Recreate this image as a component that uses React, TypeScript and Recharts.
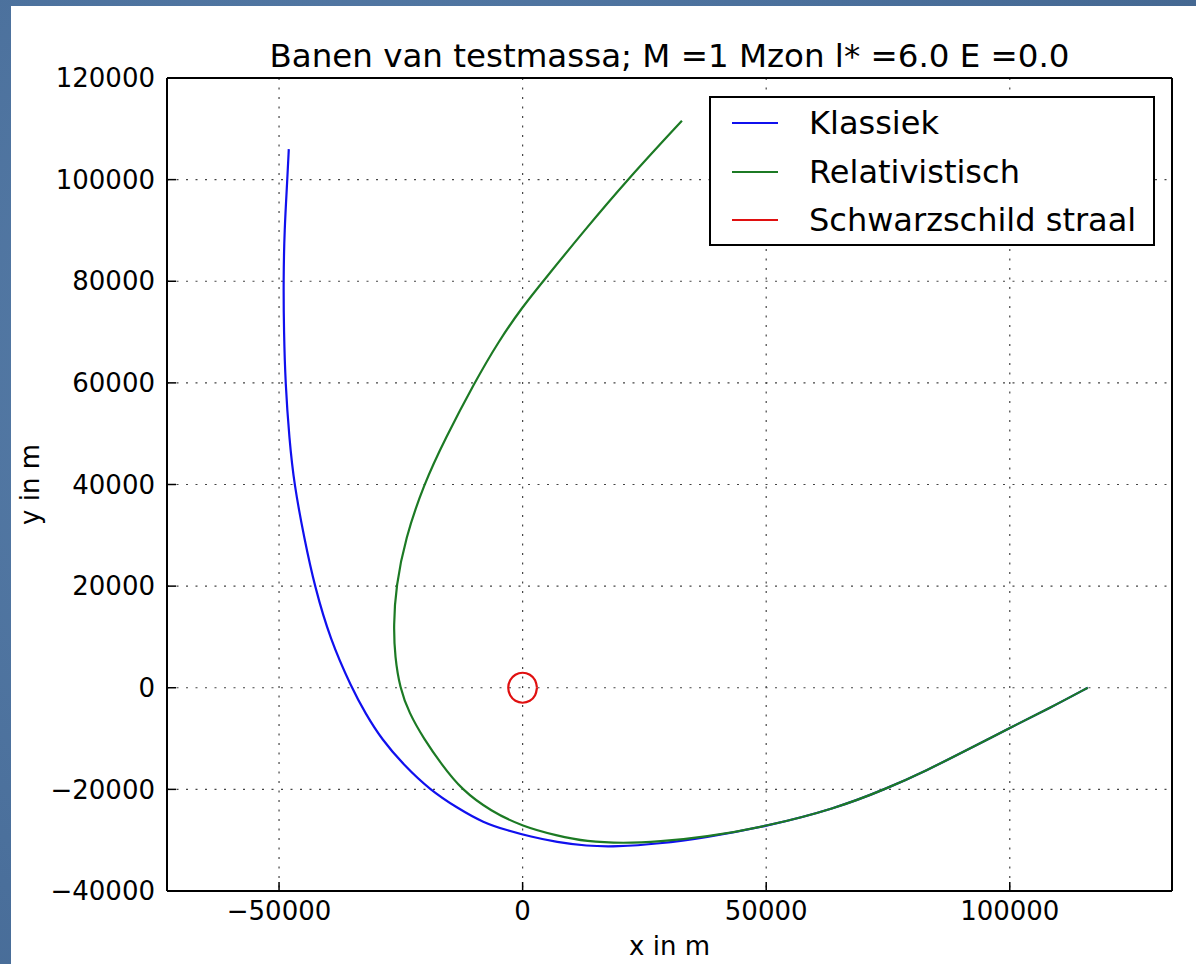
import { CartesianGrid, Legend, Line, LineChart, XAxis, YAxis } from "recharts";

// orbit samples in metres, ordered along the path (start at the right, swing round the mass)
const klassiek = [
  { x: 116000, y: 0 },
  { x: 108200, y: -4000 },
  { x: 100000, y: -7900 },
  { x: 90700, y: -12500 },
  { x: 83100, y: -16200 },
  { x: 74400, y: -20000 },
  { x: 64100, y: -23800 },
  { x: 50000, y: -27300 },
  { x: 37400, y: -29500 },
  { x: 28000, y: -30700 },
  { x: 19200, y: -31300 },
  { x: 13100, y: -31150 },
  { x: 7000, y: -30400 },
  { x: 1600, y: -29300 },
  { x: -3000, y: -28100 },
  { x: -8000, y: -26600 },
  { x: -13500, y: -23600 },
  { x: -19000, y: -20100 },
  { x: -24300, y: -15300 },
  { x: -28900, y: -10200 },
  { x: -32300, y: -5000 },
  { x: -35100, y: 0 },
  { x: -39500, y: 9500 },
  { x: -42700, y: 20000 },
  { x: -44800, y: 29300 },
  { x: -46900, y: 40000 },
  { x: -47900, y: 49000 },
  { x: -48700, y: 60000 },
  { x: -49000, y: 70000 },
  { x: -49100, y: 80000 },
  { x: -48900, y: 90000 },
  { x: -48300, y: 100000 },
  { x: -48000, y: 106000 },
];

const relativistisch = [
  { x: 116000, y: 0 },
  { x: 108200, y: -4000 },
  { x: 100000, y: -7900 },
  { x: 90700, y: -12500 },
  { x: 83100, y: -16200 },
  { x: 74400, y: -20000 },
  { x: 64100, y: -23800 },
  { x: 50000, y: -27300 },
  { x: 37400, y: -29400 },
  { x: 28000, y: -30300 },
  { x: 20700, y: -30600 },
  { x: 13100, y: -30300 },
  { x: 7000, y: -29100 },
  { x: 0, y: -27300 },
  { x: -6500, y: -24300 },
  { x: -12500, y: -20100 },
  { x: -16700, y: -15000 },
  { x: -20300, y: -10000 },
  { x: -23300, y: -5000 },
  { x: -25200, y: 0 },
  { x: -26200, y: 6000 },
  { x: -26500, y: 12200 },
  { x: -26000, y: 20000 },
  { x: -24100, y: 29300 },
  { x: -20300, y: 40000 },
  { x: -15900, y: 49000 },
  { x: -9900, y: 60000 },
  { x: -5000, y: 68100 },
  { x: 0, y: 75000 },
  { x: 4200, y: 80000 },
  { x: 12500, y: 89800 },
  { x: 21500, y: 100000 },
  { x: 32700, y: 111600 },
];

// Schwarzschild radius of one solar mass (~2950 m), traced round the origin
const schwarzschild = [
  { x: 2950, y: 0 },
  { x: 2560, y: 1480 },
  { x: 1480, y: 2560 },
  { x: 0, y: 2950 },
  { x: -1480, y: 2560 },
  { x: -2560, y: 1480 },
  { x: -2950, y: 0 },
  { x: -2560, y: -1480 },
  { x: -1480, y: -2560 },
  { x: 0, y: -2950 },
  { x: 1480, y: -2560 },
  { x: 2560, y: -1480 },
  { x: 2950, y: 0 },
];

const xTicks = [-50000, 0, 50000, 100000];
const yTicks = [-40000, -20000, 0, 20000, 40000, 60000, 80000, 100000, 120000];

const FONT = "'DejaVu Sans', sans-serif";
const minus = (v: number) => String(v).replace("-", "\u2212");

function LegendBox({ payload }: any) {
  return (
    <div
      style={{
        border: "2px solid #000",
        background: "#fff",
        width: 446,
        height: 150,
        paddingTop: 1,
        boxSizing: "border-box",
        fontFamily: FONT,
        fontSize: 32,
        color: "#000",
      }}
    >
      {(payload || []).map((entry: any) => (
        <div key={entry.value} style={{ display: "flex", alignItems: "center", height: 48.5 }}>
          <span style={{ width: 46, borderTop: `2px solid ${entry.color}`, marginLeft: 21 }} />
          <span style={{ marginLeft: 31, whiteSpace: "nowrap" }}>{entry.value}</span>
        </div>
      ))}
    </div>
  );
}

export default function App() {
  return (
    <div
      style={{
        position: "absolute",
        left: 0,
        top: 0,
        width: 1196,
        height: 964,
        overflow: "hidden",
        background: "radial-gradient(circle at 30% 40%, #5a80ab 0%, #4a6f9b 60%, #43668f 100%)",
      }}
    >
      <div style={{ position: "absolute", left: 11, top: 6, right: 0, bottom: 0, background: "#fff" }} />
      <div style={{ position: "absolute", left: 0, top: 0 }}>
        <LineChart width={1196} height={964} margin={{ top: 77, right: 23, bottom: 0, left: 0 }}>
          <CartesianGrid stroke="#444" strokeDasharray="2 7.5" strokeWidth={1.2} />
          <XAxis
            type="number"
            dataKey="x"
            domain={[-73000, 133300]}
            ticks={xTicks}
            allowDataOverflow
            height={73}
            tickFormatter={minus}
            tickSize={-9}
            tickMargin={20}
            axisLine={{ stroke: "#000", strokeWidth: 2 }}
            tickLine={{ stroke: "#000", strokeWidth: 1.5 }}
            tick={{ fill: "#000", fontSize: 26, fontFamily: FONT }}
            label={{
              content: (p: any) => (
                <text
                  x={p.viewBox.x + p.viewBox.width / 2}
                  y={955}
                  textAnchor="middle"
                  fontSize={26}
                  fontFamily={FONT}
                  fill="#000"
                >
                  x in m
                </text>
              ),
            }}
          />
          <XAxis
            xAxisId="top"
            orientation="top"
            type="number"
            dataKey="x"
            domain={[-73000, 133300]}
            ticks={xTicks}
            allowDataOverflow
            height={1}
            tick={false}
            tickSize={-9}
            axisLine={{ stroke: "#000", strokeWidth: 2 }}
            tickLine={{ stroke: "#000", strokeWidth: 1.5 }}
            label={{
              content: (p: any) => (
                <text
                  x={p.viewBox.x + p.viewBox.width / 2}
                  y={67}
                  textAnchor="middle"
                  fontSize={32.5}
                  fontFamily={FONT}
                  fill="#000"
                >
                  Banen van testmassa; M =1 Mzon l* =6.0 E =0.0
                </text>
              ),
            }}
          />
          <YAxis
            type="number"
            domain={[-40000, 120000]}
            ticks={yTicks}
            allowDataOverflow
            width={167}
            tickFormatter={minus}
            tickSize={-9}
            tickMargin={21}
            axisLine={{ stroke: "#000", strokeWidth: 2 }}
            tickLine={{ stroke: "#000", strokeWidth: 1.5 }}
            tick={{ fill: "#000", fontSize: 26, fontFamily: FONT }}
            label={{
              content: (p: any) => (
                <text
                  x={30}
                  y={p.viewBox.y + p.viewBox.height / 2}
                  transform={`rotate(-90 30 ${p.viewBox.y + p.viewBox.height / 2})`}
                  textAnchor="middle"
                  dominantBaseline="central"
                  fontSize={26}
                  fontFamily={FONT}
                  fill="#000"
                >
                  y in m
                </text>
              ),
            }}
          />
          <YAxis
            yAxisId="right"
            orientation="right"
            type="number"
            domain={[-40000, 120000]}
            ticks={yTicks}
            allowDataOverflow
            width={1}
            tick={false}
            tickSize={-9}
            axisLine={{ stroke: "#000", strokeWidth: 2 }}
            tickLine={{ stroke: "#000", strokeWidth: 1.5 }}
          />
          <Legend
            layout="vertical"
            align="center"
            verticalAlign="middle"
            wrapperStyle={{ position: "absolute", top: 96, left: 709, width: 446, height: 150 }}
            content={<LegendBox />}
          />
          <Line
            data={klassiek}
            dataKey="y"
            name="Klassiek"
            type="basis"
            stroke="#1010ee"
            strokeWidth={2.2}
            dot={false}
            activeDot={false}
            isAnimationActive={false}
          />
          <Line
            data={relativistisch}
            dataKey="y"
            name="Relativistisch"
            type="basis"
            stroke="#1c7a24"
            strokeWidth={2.2}
            dot={false}
            activeDot={false}
            isAnimationActive={false}
          />
          <Line
            data={schwarzschild}
            dataKey="y"
            name="Schwarzschild straal"
            type="natural"
            stroke="#e01010"
            strokeWidth={2.2}
            dot={false}
            activeDot={false}
            isAnimationActive={false}
          />
        </LineChart>
      </div>
    </div>
  );
}
